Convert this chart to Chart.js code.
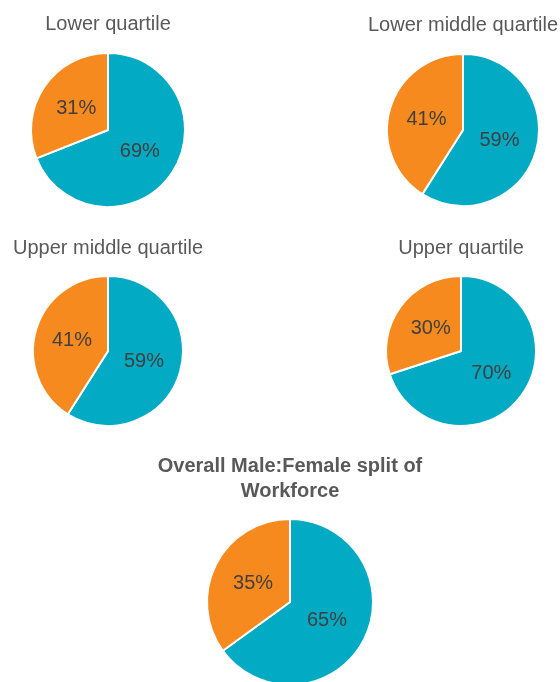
<!DOCTYPE html>
<html>
<head>
<meta charset="utf-8">
<script src="https://cdn.jsdelivr.net/npm/chart.js@4.4.1/dist/chart.umd.min.js"></script>
<style>
  html, body { margin: 0; padding: 0; background: #fff; }
  body { width: 560px; height: 682px; position: relative; overflow: hidden; }
  .box { position: absolute; }
</style>
</head>
<body>
<div class="box" id="b0"><canvas id="c0"></canvas></div>
<div class="box" id="b1"><canvas id="c1"></canvas></div>
<div class="box" id="b2"><canvas id="c2"></canvas></div>
<div class="box" id="b3"><canvas id="c3"></canvas></div>
<div class="box" id="b4"><canvas id="c4"></canvas></div>
<script>
const genders = ['Male', 'Female'];
const chartTitles = ['Lower quartile', 'Lower middle quartile', 'Upper middle quartile', 'Upper quartile',
  ['Overall Male:Female split of', 'Workforce']];
const maleShare = [69, 59, 59, 70, 65];
const femaleShare = [31, 41, 41, 30, 35];

const colours = ['#02AAC4', '#F68A1E'];

// box placement for each little chart: left, top, width, height, title gap, radius
const boxes = [
  { left: 8, top: 12, w: 200, h: 202, gap: 10, r: 77 },
  { left: 363, top: 13, w: 200, h: 200, gap: 10, r: 76 },
  { left: 8, top: 236, w: 200, h: 196, gap: 10, r: 75 },
  { left: 361, top: 236, w: 200, h: 196, gap: 10, r: 75 },
  { left: 140, top: 454, w: 300, h: 240, gap: 6, r: 83 }
];

// percentage labels inside the slices
const sliceLabels = {
  id: 'sliceLabels',
  afterDatasetsDraw(chart) {
    const ctx = chart.ctx;
    const meta = chart.getDatasetMeta(0);
    const values = chart.data.datasets[0].data;
    ctx.save();
    ctx.font = '20px "Liberation Sans", Arial, sans-serif';
    ctx.fillStyle = '#404040';
    ctx.textAlign = 'center';
    ctx.textBaseline = 'middle';
    meta.data.forEach((arc, i) => {
      const p = arc.getProps(['x', 'y', 'startAngle', 'endAngle', 'outerRadius'], true);
      const mid = (p.startAngle + p.endAngle) / 2;
      const d = p.outerRadius * 0.5;
      ctx.fillText(values[i] + '%', p.x + Math.cos(mid) * d, p.y + Math.sin(mid) * d);
    });
    ctx.restore();
  }
};

boxes.forEach((b, i) => {
  const el = document.getElementById('b' + i);
  el.style.left = b.left + 'px';
  el.style.top = b.top + 'px';
  el.style.width = b.w + 'px';
  el.style.height = b.h + 'px';
  const overall = i === 4;

  new Chart(document.getElementById('c' + i), {
    type: 'pie',
    data: {
      labels: genders,
      datasets: [{
        data: [maleShare[i], femaleShare[i]],
        backgroundColor: colours,
        borderColor: '#ffffff',
        borderWidth: 2,
        radius: b.r
      }]
    },
    options: {
      responsive: true,
      maintainAspectRatio: false,
      animation: false,
      devicePixelRatio: 1,
      layout: { padding: 0 },
      plugins: {
        legend: { display: false },
        tooltip: { enabled: false },
        title: {
          display: true,
          text: chartTitles[i],
          color: '#595959',
          font: {
            family: '"Liberation Sans", Arial, sans-serif',
            size: 20,
            weight: overall ? 'bold' : 'normal',
            lineHeight: overall ? 1.25 : 1.2
          },
          padding: { top: 0, bottom: b.gap }
        }
      }
    },
    plugins: [sliceLabels]
  });
});
</script>
</body>
</html>
